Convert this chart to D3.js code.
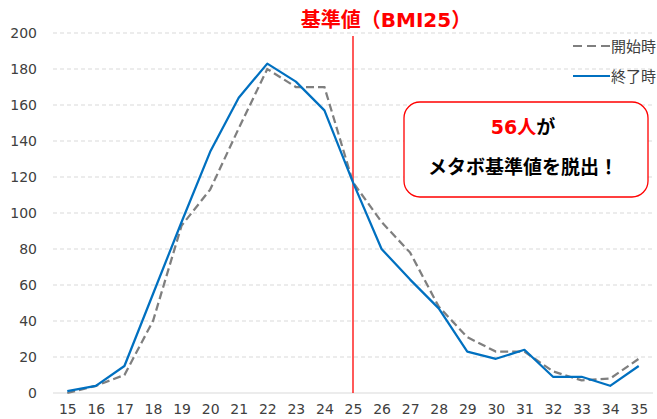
<!DOCTYPE html>
<html lang="ja">
<head>
    <meta charset="utf-8">
    <title>BMI chart</title>
    <script src="https://d3js.org/d3.v7.min.js"></script>
    <style>
        body { margin: 0; background: #fff; }
        text { font-family: "DejaVu Sans", "Noto Sans CJK JP", sans-serif; }
        .jp { font-family: "Noto Sans CJK JP", sans-serif; }
        .lat { font-family: "DejaVu Sans", sans-serif; }
    </style>
</head>
<body>
<script>
    // BMI categories (x axis)
    var bmi = [15,16,17,18,19,20,21,22,23,24,25,26,27,28,29,30,31,32,33,34,35];
    // number of people at start / at end
    var startVals = [0,4,10,40,93,113,147,180,170,170,117,95,78,48,31,23,23,12,7,8,19];
    var endVals   = [1,4,15,55,95,134,164,183,173,157,117,80,63,47,23,19,24,9,9,4,15];
    var yTicks = [0,20,40,60,80,100,120,140,160,180,200];
    var threshold = 25;

    var width = 657, height = 419;
    var plotLeft = 53, plotRight = 653, plotTop = 33, plotBottom = 393;

    var svg = d3.select("body").append("svg")
        .attr("width", width)
        .attr("height", height);

    // scales
    var x = d3.scalePoint()
        .domain(bmi)
        .range([plotLeft, plotRight])
        .padding(0.5);

    var y = d3.scaleLinear()
        .domain([0, 200])
        .range([plotBottom, plotTop]);

    // gridlines
    svg.append("g").selectAll("line")
        .data(yTicks)
        .enter()
        .append("line")
        .attr("x1", plotLeft)
        .attr("x2", plotRight)
        .attr("y1", function(d) { return y(d); })
        .attr("y2", function(d) { return y(d); })
        .attr("stroke", "#d9d9d9")
        .attr("stroke-width", 1)
        .attr("stroke-dasharray", function(d) { return d == 0 ? null : "4,3"; });

    // y axis labels
    var yAxis = d3.axisLeft(y).tickValues(yTicks).tickSize(0).tickPadding(0);
    var gy = svg.append("g")
        .attr("transform", "translate(37,0)")
        .call(yAxis);
    gy.select(".domain").remove();
    gy.selectAll("text")
        .attr("font-size", 14)
        .attr("fill", "#404040")
        .style("font-family", "DejaVu Sans, sans-serif");

    // x axis labels
    var xAxis = d3.axisBottom(x).tickSize(0).tickPadding(0);
    var gx = svg.append("g")
        .attr("transform", "translate(0,404)")
        .call(xAxis);
    gx.select(".domain").remove();
    gx.selectAll("text")
        .attr("font-size", 14)
        .attr("fill", "#404040")
        .style("font-family", "DejaVu Sans, sans-serif");

    // threshold line
    svg.append("line")
        .attr("x1", x(threshold))
        .attr("x2", x(threshold))
        .attr("y1", 36)
        .attr("y2", plotBottom)
        .attr("stroke", "#ff0000")
        .attr("stroke-width", 1.3);

    var title = svg.append("text")
        .attr("x", 386)
        .attr("y", 27)
        .attr("text-anchor", "middle")
        .attr("font-size", 20)
        .attr("font-weight", "bold")
        .attr("fill", "#ff0000");
    title.append("tspan").attr("class", "jp").text("基準値（");
    title.append("tspan").attr("class", "lat").text("BMI25");
    title.append("tspan").attr("class", "jp").text("）");

    // lines
    var line = d3.line()
        .x(function(d, i) { return x(bmi[i]); })
        .y(function(d) { return y(d); });

    svg.append("path")
        .datum(startVals)
        .attr("d", line)
        .attr("fill", "none")
        .attr("stroke", "#7f7f7f")
        .attr("stroke-width", 2.25)
        .attr("stroke-dasharray", "8,4");

    svg.append("path")
        .datum(endVals)
        .attr("d", line)
        .attr("fill", "none")
        .attr("stroke", "#0070c0")
        .attr("stroke-width", 2.25)
        .attr("stroke-linejoin", "round");

    // legend
    var legend = [
        {name: "開始時", color: "#7f7f7f", dash: "9,5", y: 46},
        {name: "終了時", color: "#0070c0", dash: null, y: 76}
    ];
    var lg = svg.append("g").selectAll("g")
        .data(legend)
        .enter()
        .append("g");
    lg.append("line")
        .attr("x1", 573).attr("x2", 610)
        .attr("y1", function(d) { return d.y; })
        .attr("y2", function(d) { return d.y; })
        .attr("stroke", function(d) { return d.color; })
        .attr("stroke-width", 2)
        .attr("stroke-dasharray", function(d) { return d.dash; });
    lg.append("text")
        .attr("class", "jp")
        .attr("x", 611)
        .attr("y", function(d) { return d.y + 5.5; })
        .attr("font-size", 15)
        .attr("fill", "#404040")
        .text(function(d) { return d.name; });

    // annotation box
    svg.append("rect")
        .attr("x", 404)
        .attr("y", 102)
        .attr("width", 244)
        .attr("height", 95)
        .attr("rx", 16)
        .attr("fill", "#fff")
        .attr("stroke", "#ff0000")
        .attr("stroke-width", 1.3);

    var t1 = svg.append("text")
        .attr("x", 523)
        .attr("y", 134)
        .attr("text-anchor", "middle")
        .attr("font-size", 19)
        .attr("font-weight", "bold");
    t1.append("tspan").attr("class", "lat").attr("fill", "#ff0000").text("56");
    t1.append("tspan").attr("class", "jp").attr("fill", "#ff0000").text("人");
    t1.append("tspan").attr("class", "jp").attr("fill", "#000").text("が");

    svg.append("text")
        .attr("class", "jp")
        .attr("x", 523)
        .attr("y", 174)
        .attr("text-anchor", "middle")
        .attr("font-size", 19)
        .attr("font-weight", "bold")
        .attr("fill", "#000")
        .text("メタボ基準値を脱出！");
</script>
</body>
</html>
